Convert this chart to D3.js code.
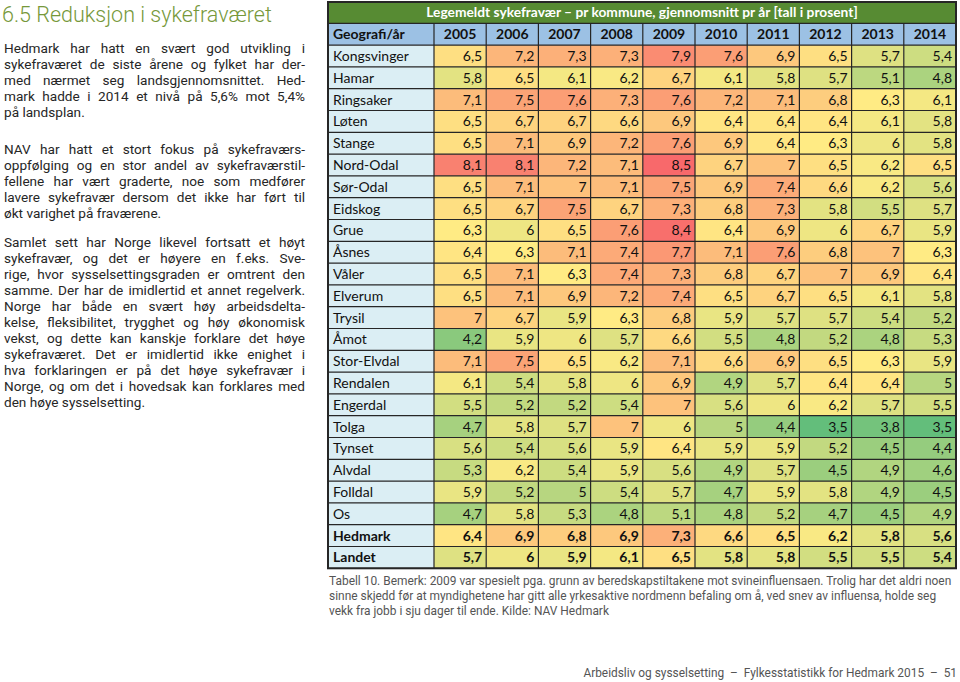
<!DOCTYPE html>
<html>
<head>
<meta charset="utf-8">
<script src="https://cdn.jsdelivr.net/npm/d3@7"></script>
<style>
  html, body { margin: 0; padding: 0; background: #fff; }
  svg { display: block; }
</style>
</head>
<body>
<svg id="page" width="960" height="682"></svg>
<script>
// ---------------- DATA ----------------
const tableTitle = "Legemeldt sykefravær – pr kommune, gjennomsnitt pr år [tall i prosent]";
const headerLabel = "Geografi/år";
const years = ["2005","2006","2007","2008","2009","2010","2011","2012","2013","2014"];
const regions = ["Kongsvinger","Hamar","Ringsaker","Løten","Stange","Nord-Odal","Sør-Odal","Eidskog",
  "Grue","Åsnes","Våler","Elverum","Trysil","Åmot","Stor-Elvdal","Rendalen","Engerdal","Tolga",
  "Tynset","Alvdal","Folldal","Os","Hedmark","Landet"];
const boldRegions = ["Hedmark","Landet"];
const rates = [
  [6.5,7.2,7.3,7.3,7.9,7.6,6.9,6.5,5.7,5.4],
  [5.8,6.5,6.1,6.2,6.7,6.1,5.8,5.7,5.1,4.8],
  [7.1,7.5,7.6,7.3,7.6,7.2,7.1,6.8,6.3,6.1],
  [6.5,6.7,6.7,6.6,6.9,6.4,6.4,6.4,6.1,5.8],
  [6.5,7.1,6.9,7.2,7.6,6.9,6.4,6.3,6,5.8],
  [8.1,8.1,7.2,7.1,8.5,6.7,7,6.5,6.2,6.5],
  [6.5,7.1,7,7.1,7.5,6.9,7.4,6.6,6.2,5.6],
  [6.5,6.7,7.5,6.7,7.3,6.8,7.3,5.8,5.5,5.7],
  [6.3,6,6.5,7.6,8.4,6.4,6.9,6,6.7,5.9],
  [6.4,6.3,7.1,7.4,7.7,7.1,7.6,6.8,7,6.3],
  [6.5,7.1,6.3,7.4,7.3,6.8,6.7,7,6.9,6.4],
  [6.5,7.1,6.9,7.2,7.4,6.5,6.7,6.5,6.1,5.8],
  [7,6.7,5.9,6.3,6.8,5.9,5.7,5.7,5.4,5.2],
  [4.2,5.9,6,5.7,6.6,5.5,4.8,5.2,4.8,5.3],
  [7.1,7.5,6.5,6.2,7.1,6.6,6.9,6.5,6.3,5.9],
  [6.1,5.4,5.8,6,6.9,4.9,5.7,6.4,6.4,5],
  [5.5,5.2,5.2,5.4,7,5.6,6,6.2,5.7,5.5],
  [4.7,5.8,5.7,7,6,5,4.4,3.5,3.8,3.5],
  [5.6,5.4,5.6,5.9,6.4,5.9,5.9,5.2,4.5,4.4],
  [5.3,6.2,5.4,5.9,5.6,4.9,5.7,4.5,4.9,4.6],
  [5.9,5.2,5,5.4,5.7,4.7,5.9,5.8,4.9,4.5],
  [4.7,5.8,5.3,4.8,5.1,4.8,5.2,4.7,4.5,4.9],
  [6.4,6.9,6.8,6.9,7.3,6.6,6.5,6.2,5.8,5.6],
  [5.7,6,5.9,6.1,6.5,5.8,5.8,5.5,5.5,5.4]
];

const heading = "6.5 Reduksjon i sykefraværet";
const paragraphs = [
  ["Hedmark har hatt en svært god utvikling i",
   "sykefraværet de siste årene og fylket har der-",
   "med nærmet seg landsgjennomsnittet. Hed-",
   "mark hadde i 2014 et nivå på 5,6% mot 5,4%",
   "på landsplan."],
  ["NAV har hatt et stort fokus på sykefraværs-",
   "oppfølging og en stor andel av sykefraværstil-",
   "fellene har vært graderte, noe som medfører",
   "lavere sykefravær dersom det ikke har ført til",
   "økt varighet på fraværene."],
  ["Samlet sett har Norge likevel fortsatt et høyt",
   "sykefravær, og det er høyere en f.eks. Sve-",
   "rige, hvor sysselsettingsgraden er omtrent den",
   "samme. Der har de imidlertid et annet regelverk.",
   "Norge har både en svært høy arbeidsdelta-",
   "kelse, fleksibilitet, trygghet og høy økonomisk",
   "vekst, og dette kan kanskje forklare det høye",
   "sykefraværet. Det er imidlertid ikke enighet i",
   "hva forklaringen er på det høye sykefravær i",
   "Norge, og om det i hovedsak kan forklares med",
   "den høye sysselsetting."]
];
const caption = [
  "Tabell 10. Bemerk: 2009 var spesielt pga. grunn av beredskapstiltakene mot svineinfluensaen. Trolig har det aldri noen",
  "sinne skjedd før at myndighetene har gitt alle yrkesaktive nordmenn befaling om å, ved snev av influensa, holde seg",
  "vekk fra jobb i sju dager til ende. Kilde: NAV Hedmark"
];
const footer = "Arbeidsliv og sysselsetting  –  Fylkesstatistikk for Hedmark 2015  –  51";

// ---------------- LAYOUT ----------------
const svg = d3.select("#page");
const textFont = "Roboto, 'DejaVu Sans', sans-serif";
const tableFont = "Lato, 'Open Sans', sans-serif";

// Heading
const h = svg.append("text")
  .attr("x", 2).attr("y", 22)
  .attr("font-family", textFont).attr("font-size", 21).attr("font-weight", 300)
  .attr("fill", "#76983a")
  .text(heading);
{
  const w = h.node().getComputedTextLength();
  h.attr("font-size", 21 * 270 / w);
}

// Paragraphs (justified)
const pStarts = [48, 149, 242];
const lineH = 16, leftX = 4, textW = 301;
paragraphs.forEach((lines, pi) => {
  lines.forEach((line, li) => {
    const t = svg.append("text")
      .attr("x", leftX).attr("y", pStarts[pi] + li * lineH)
      .attr("dy", "0.35em")
      .attr("font-family", textFont).attr("font-size", 13.6)
      .attr("fill", "#262626")
      .text(line);
    if (li < lines.length - 1) {
      const w = t.node().getComputedTextLength();
      const spaces = (line.match(/ /g) || []).length;
      if (spaces > 0) t.attr("word-spacing", (textW - w) / spaces);
    }
  });
});

// ---------------- TABLE ----------------
const x0 = 328, nameW = 106, colW = 52.2;
const tableRight = x0 + nameW + colW * years.length;
const titleTop = 2, titleH = 21.3;
const headTop = titleTop + titleH, rowH = 21.8;
const bodyTop = headTop + rowH;

const xCol = d3.scaleBand().domain(years).range([x0 + nameW, tableRight]).paddingInner(0).paddingOuter(0);
const yRow = d3.scaleBand().domain(regions).range([bodyTop, bodyTop + rowH * regions.length]);

const all = rates.flat();
const color = d3.scaleLinear()
  .domain([d3.min(all), d3.median(all), d3.max(all)])
  .range(["#63BE7B", "#FFEB84", "#F8696B"])
  .interpolate(d3.interpolateRgb);

const table = svg.append("g");
const lineColor = "#262626";
const fs = 14;

// title bar
table.append("rect").attr("x", x0).attr("y", titleTop).attr("width", tableRight - x0).attr("height", titleH)
  .attr("fill", "#578b33");
const tt = table.append("text")
  .attr("x", (x0 + tableRight) / 2).attr("y", titleTop + titleH / 2).attr("dy", "0.35em")
  .attr("text-anchor", "middle").attr("fill", "#fff")
  .attr("font-family", tableFont).attr("font-weight", "bold").attr("font-size", 14)
  .text(tableTitle);
{
  const w = tt.node().getComputedTextLength();
  tt.attr("font-size", 14 * 432 / w);
}

// header row
table.append("rect").attr("x", x0).attr("y", headTop).attr("width", tableRight - x0).attr("height", rowH)
  .attr("fill", "#9cc1e4");
table.append("text")
  .attr("x", x0 + 5).attr("y", headTop + rowH / 2).attr("dy", "0.36em")
  .attr("font-family", tableFont).attr("font-weight", "bold").attr("font-size", fs).attr("fill", "#111")
  .text(headerLabel);
table.selectAll(".yr").data(years).join("text")
  .attr("x", d => xCol(d) + xCol.bandwidth() / 2).attr("y", headTop + rowH / 2).attr("dy", "0.36em")
  .attr("text-anchor", "middle")
  .attr("font-family", tableFont).attr("font-weight", "bold").attr("font-size", fs).attr("fill", "#111")
  .text(d => d);

// name column
const rowsG = table.selectAll(".row").data(regions).join("g");
rowsG.append("rect")
  .attr("x", x0).attr("y", d => yRow(d)).attr("width", nameW).attr("height", yRow.bandwidth())
  .attr("fill", "#dbeef4");
rowsG.append("text")
  .attr("x", x0 + 5).attr("y", d => yRow(d) + yRow.bandwidth() / 2).attr("dy", "0.36em")
  .attr("font-family", tableFont).attr("font-size", fs).attr("fill", "#111")
  .attr("font-weight", d => boldRegions.includes(d) ? "bold" : "normal")
  .text(d => d);

// value cells
const cells = [];
regions.forEach((r, i) => years.forEach((y, j) => cells.push({ r, y, v: rates[i][j] })));
const fmt = v => String(v).replace(".", ",");
table.selectAll(".cell").data(cells).join("rect")
  .attr("x", d => xCol(d.y)).attr("y", d => yRow(d.r))
  .attr("width", xCol.bandwidth()).attr("height", yRow.bandwidth())
  .attr("fill", d => color(d.v));
table.selectAll(".val").data(cells).join("text")
  .attr("x", d => xCol(d.y) + xCol.bandwidth() - 4).attr("y", d => yRow(d.r) + yRow.bandwidth() / 2).attr("dy", "0.36em")
  .attr("text-anchor", "end")
  .attr("font-family", tableFont).attr("font-size", fs).attr("fill", "#111")
  .attr("font-weight", d => boldRegions.includes(d.r) ? "bold" : "normal")
  .text(d => fmt(d.v));

// grid lines
const bottom = bodyTop + rowH * regions.length;
const hLines = [headTop, bodyTop].concat(regions.map(r => yRow(r) + yRow.bandwidth()));
table.selectAll(".hl").data(hLines).join("line")
  .attr("x1", x0).attr("x2", tableRight).attr("y1", d => d).attr("y2", d => d)
  .attr("stroke", lineColor).attr("stroke-width", 1.2);
const vLines = [x0 + nameW].concat(years.map(y => xCol(y) + xCol.bandwidth())).slice(0, -1);
table.selectAll(".vl").data(vLines).join("line")
  .attr("x1", d => d).attr("x2", d => d).attr("y1", headTop).attr("y2", bottom)
  .attr("stroke", lineColor).attr("stroke-width", 1.2);
table.append("rect").attr("x", x0).attr("y", titleTop).attr("width", tableRight - x0).attr("height", bottom - titleTop)
  .attr("fill", "none").attr("stroke", lineColor).attr("stroke-width", 2);

// ---------------- CAPTION & FOOTER ----------------
const capG = svg.append("g");
const capTexts = capG.selectAll("text").data(caption).join("text")
  .attr("x", 329).attr("y", (d, i) => 581 + i * 15).attr("dy", "0.35em")
  .attr("font-family", textFont).attr("font-size", 12).attr("fill", "#555")
  .text(d => d);
{
  const w = capTexts.nodes()[0].getComputedTextLength();
  capTexts.attr("font-size", 12 * 623 / w);
}
const ft = svg.append("text")
  .attr("x", 957).attr("y", 673).attr("dy", "0.35em").attr("text-anchor", "end")
  .attr("font-family", textFont).attr("font-size", 13).attr("fill", "#555")
  .attr("xml:space", "preserve").style("white-space", "pre")
  .text(footer);
{
  const w = ft.node().getComputedTextLength();
  ft.attr("font-size", 13 * 374 / w);
}
</script>
</body>
</html>
